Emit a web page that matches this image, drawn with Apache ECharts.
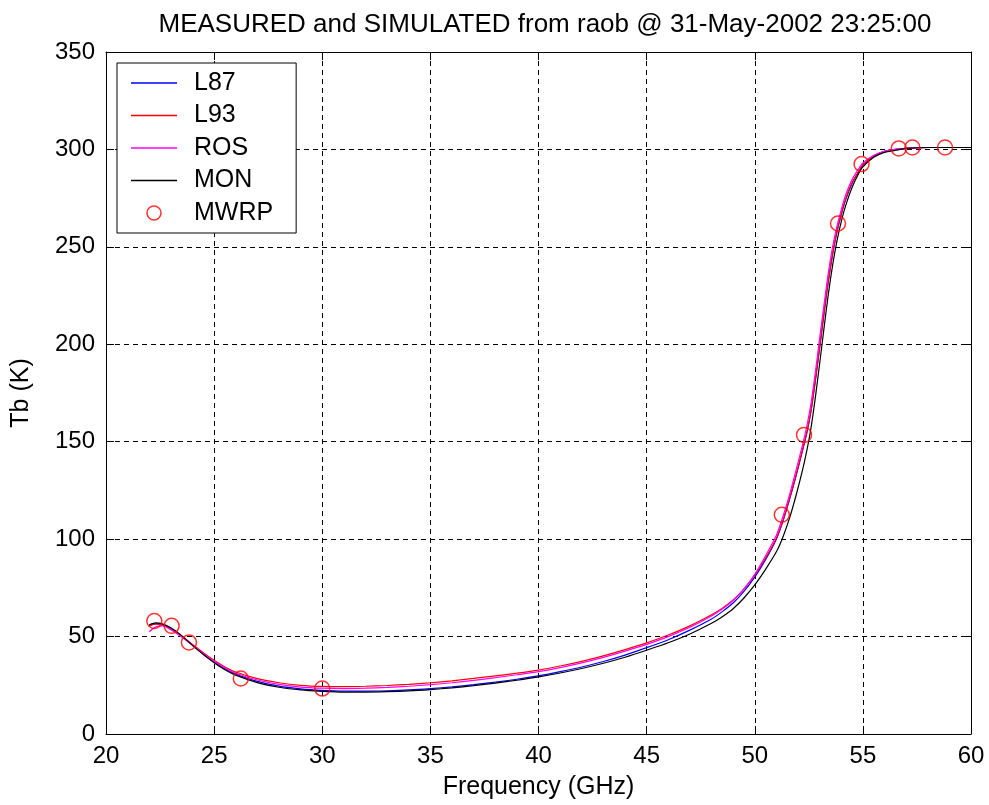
<!DOCTYPE html>
<html>
<head>
<meta charset="utf-8">
<script src="https://cdn.jsdelivr.net/npm/echarts@6/dist/echarts.min.js"></script>
<style>html,body{margin:0;padding:0;background:#fff;}#c{width:989px;height:805px;}</style>
</head>
<body>
<div id="c"></div>
<script>
var freq = [22, 22.3, 22.6, 23, 23.5, 24, 24.5, 25, 25.5, 26, 27, 28, 29, 30, 31, 32, 33, 34, 35, 36, 37, 38, 39, 40, 41, 42, 43, 44, 45, 46, 47, 48, 48.5, 49, 49.5, 50, 50.5, 51, 51.3, 51.6, 51.9, 52.2, 52.4, 52.6, 52.8, 53, 53.2, 53.4, 53.6, 53.8, 54, 54.2, 54.5, 54.8, 55, 55.5, 56, 56.5, 57, 58, 59, 60];
var l87 = [55.5, 56.5, 56, 54, 50, 45.5, 41, 37, 33.5, 30.8, 27, 24.6, 23.2, 22.4, 22, 22, 22.2, 22.6, 23.3, 24.2, 25.3, 26.6, 28.1, 29.8, 32, 34.4, 37.2, 40.5, 44.3, 48.4, 53.3, 59, 62.8, 67.2, 73.2, 80.5, 89.5, 100, 109, 120, 132, 145, 154, 165.5, 181, 198, 215.5, 232, 246, 257.5, 266.5, 274, 282.5, 288.5, 292, 296.5, 299, 300, 300.5, 301, 301, 301];
var l93 = [55.5, 56.5, 56, 54, 50.3, 46, 41.7, 37.8, 34.4, 31.8, 28.4, 26.3, 25, 24.4, 24.3, 24.5, 24.9, 25.5, 26.3, 27.3, 28.5, 29.8, 31.2, 32.8, 34.9, 37.3, 40.1, 43.3, 46.8, 50.8, 55.5, 61.2, 64.6, 68.8, 74.4, 81.5, 90.3, 100.5, 109.5, 120.5, 132.5, 145.5, 154.5, 166, 181.5, 198.5, 216, 232.5, 246.5, 258, 267, 274.5, 283, 288.5, 292, 296.5, 299, 300, 300.5, 301, 301, 301];
var ros = [52.5, 55, 55.5, 53.5, 49.8, 45.6, 41.3, 37.3, 33.9, 31.2, 27.7, 25.5, 24.1, 23.5, 23.3, 23.5, 23.9, 24.5, 25.3, 26.3, 27.5, 28.9, 30.4, 32, 34.1, 36.5, 39.3, 42.5, 46, 50, 54.8, 60.6, 64.1, 68.5, 74.5, 82, 91.5, 102, 111.5, 122.5, 135, 148, 157.5, 169.5, 185.5, 203, 220, 236.5, 250, 260.5, 269, 276.5, 284.5, 290, 293, 297, 299, 300, 300.5, 301, 301, 301];
var mon = [56, 57, 56.5, 54.5, 50.5, 45.5, 40.8, 36.6, 33, 30.2, 26.4, 24, 22.6, 21.9, 21.5, 21.5, 21.7, 22.1, 22.8, 23.7, 24.8, 26.1, 27.6, 29.3, 31.3, 33.6, 36.3, 39.4, 43, 46.8, 51.3, 56.8, 60.2, 64.3, 69.8, 76.5, 84.5, 93.5, 101, 110.5, 122, 135, 145, 157, 172.5, 190, 208, 225.5, 240.5, 253, 263, 271, 280.5, 287.5, 291, 296, 298.5, 299.5, 300.5, 301, 301, 301];
var mwrpFreq = [22.235, 23.035, 23.835, 26.235, 30.0, 51.25, 52.28, 53.85, 54.94, 56.66, 57.29, 58.8];
var mwrpTb = [58, 55.5, 47, 28.5, 23.3, 112.5, 153.5, 262, 292.5, 300.5, 301, 301];
var xTicks = [20, 25, 30, 35, 40, 45, 50, 55, 60];
var yTicks = [0, 50, 100, 150, 200, 250, 300, 350];

function pairs(xs, ys) { return xs.map(function (x, i) { return [x, ys[i]]; }); }

var FONT = "'Liberation Sans', Arial, sans-serif";
var chart = echarts.init(document.getElementById('c'), null, { renderer: 'canvas' });

var gridLine = { show: true, lineStyle: { color: '#000', width: 1, type: [5, 4] } };
var axisBase = {
  type: 'value', axisLine: { show: true, onZero: false, lineStyle: { color: '#000', width: 1 } },
  axisTick: { show: true, inside: true, length: 8, lineStyle: { color: '#000' } }
};

function lineSeries(name, ys, color) {
  return { name: name, type: 'line', data: pairs(freq, ys), symbol: 'none', showSymbol: false,
    smooth: 0.25,
    lineStyle: { color: color, width: 1.2 }, itemStyle: { color: color }, z: 3 };
}
var LINE_ICON = 'path://M0,0 L46,0 L46,1.3 L0,1.3 Z';

chart.setOption({
  animation: false,
  backgroundColor: '#fff',
  title: {
    text: 'MEASURED and SIMULATED from raob @ 31-May-2002 23:25:00',
    left: 540, top: 7, textAlign: 'center',
    textStyle: { fontFamily: FONT, fontSize: 26, fontWeight: 'normal', color: '#000' }
  },
  grid: { left: 106, right: 18, top: 52, bottom: 69, show: false },
  legend: {
    orient: 'vertical', left: 117, top: 63,
    padding: [7, 23, 7, 14], itemGap: 6.5, itemWidth: 46, itemHeight: 14,
    backgroundColor: '#fff', borderColor: '#000', borderWidth: 1,
    textStyle: { fontFamily: FONT, fontSize: 25, color: '#000', lineHeight: 26, padding: [0, 0, 0, 12] },
    data: [
      { name: 'L87', icon: LINE_ICON },
      { name: 'L93', icon: LINE_ICON },
      { name: 'ROS', icon: LINE_ICON },
      { name: 'MON', icon: LINE_ICON },
      { name: 'MWRP', icon: 'circle', itemStyle: { color: 'transparent', borderColor: '#ff0000', borderWidth: 1.5 } }
    ]
  },
  xAxis: [
    Object.assign({}, axisBase, {
      min: 20, max: 60, interval: 5, position: 'bottom',
      name: 'Frequency (GHz)', nameLocation: 'middle', nameGap: 41,
      nameTextStyle: { fontFamily: FONT, fontSize: 25, color: '#000' },
      axisLabel: { fontFamily: FONT, fontSize: 24, color: '#000', margin: 10,
        formatter: function (v) { return xTicks.indexOf(v) >= 0 ? String(v) : ''; } },
      splitLine: gridLine
    }),
    Object.assign({}, axisBase, {
      min: 20, max: 60, interval: 5, position: 'top',
      axisLabel: { show: false }, splitLine: { show: false }
    })
  ],
  yAxis: [
    Object.assign({}, axisBase, {
      min: 0, max: 350, interval: 50, position: 'left',
      name: 'Tb (K)', nameLocation: 'middle', nameGap: 72, nameRotate: 90,
      nameTextStyle: { fontFamily: FONT, fontSize: 25, color: '#000' },
      axisLabel: { fontFamily: FONT, fontSize: 24, color: '#000', margin: 11,
        formatter: function (v) { return yTicks.indexOf(v) >= 0 ? String(v) : ''; } },
      splitLine: gridLine
    }),
    Object.assign({}, axisBase, {
      min: 0, max: 350, interval: 50, position: 'right',
      axisLabel: { show: false }, splitLine: { show: false }
    })
  ],
  series: [
    lineSeries('L87', l87, '#0000ff'),
    lineSeries('L93', l93, '#ff0000'),
    lineSeries('ROS', ros, '#ff00ff'),
    lineSeries('MON', mon, '#000000'),
    { name: 'MWRP', type: 'scatter', data: pairs(mwrpFreq, mwrpTb), symbol: 'circle', symbolSize: 15,
      itemStyle: { color: 'transparent', borderColor: '#ff0000', borderWidth: 1.5 }, z: 4 }
  ]
});
</script>
</body>
</html>
